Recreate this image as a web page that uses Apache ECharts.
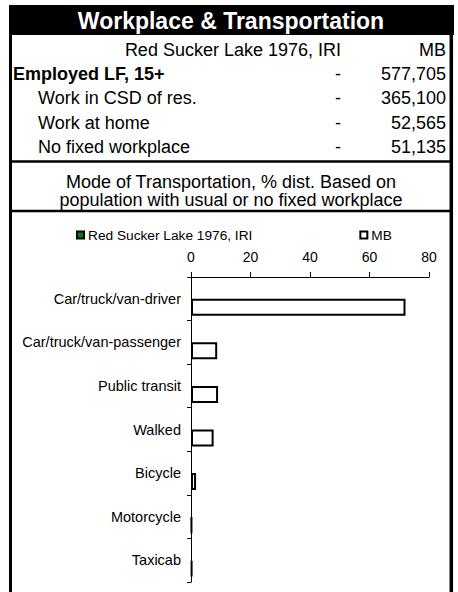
<!DOCTYPE html>
<html>
<head>
<meta charset="utf-8">
<script src="https://cdn.jsdelivr.net/npm/echarts@6/dist/echarts.min.js"></script>
<style>
html,body{margin:0;padding:0;background:#fff;}
#c{width:458px;height:592px;}
</style>
</head>
<body>
<div id="c"></div>
<script>
// ---- data ----
const titleText = 'Workplace & Transportation';
const placeName = 'Red Sucker Lake 1976, IRI';
const provName = 'MB';
const tableRows = ['Employed LF, 15+', 'Work in CSD of res.', 'Work at home', 'No fixed workplace'];
const tablePlace = ['-', '-', '-', '-'];
const tableProv = ['577,705', '365,100', '52,565', '51,135'];
const modeTitle = ['Mode of Transportation, % dist. Based on', 'population with usual or no fixed workplace'];
const categories = ['Car/truck/van-driver', 'Car/truck/van-passenger', 'Public transit', 'Walked', 'Bicycle', 'Motorcycle', 'Taxicab'];
const placeValues = [null, null, null, null, null, null, null];
const provValues = [72.1, 8.8, 9.1, 7.6, 1.7, 0.3, 0.4];
const axisMin = 0, axisMax = 80, axisStep = 20;

const FONT = '"Liberation Sans", Arial, Helvetica, sans-serif';
const chart = echarts.init(document.getElementById('c'), null, {renderer: 'svg'});

const g = [];
// title bar
g.push({type: 'rect', shape: {x: 9, y: 5, width: 445, height: 30}, style: {fill: '#000'}, silent: true});
g.push({type: 'text', x: 231, y: 21, style: {text: titleText, fill: '#fff', font: 'bold 23px ' + FONT, textAlign: 'center', textVerticalAlign: 'middle'}});
// frame
g.push({type: 'line', shape: {x1: 10.5, y1: 35, x2: 10.5, y2: 600}, style: {stroke: '#000', lineWidth: 3}});
g.push({type: 'line', shape: {x1: 451.3, y1: 35, x2: 451.3, y2: 600}, style: {stroke: '#000', lineWidth: 3.5}});
g.push({type: 'line', shape: {x1: 9, y1: 161.5, x2: 453, y2: 161.5}, style: {stroke: '#000', lineWidth: 2.5}});
g.push({type: 'line', shape: {x1: 9, y1: 211, x2: 453, y2: 211}, style: {stroke: '#000', lineWidth: 2.5}});
// table header
const rowY0 = 50, rowStep = 24.2;
g.push({type: 'text', x: 341, y: rowY0, style: {text: placeName, fill: '#000', font: '18px ' + FONT, textAlign: 'right', textVerticalAlign: 'middle'}});
g.push({type: 'text', x: 446, y: rowY0, style: {text: provName, fill: '#000', font: '18px ' + FONT, textAlign: 'right', textVerticalAlign: 'middle'}});
tableRows.forEach((r, i) => {
  const y = rowY0 + rowStep * (i + 1);
  const first = i === 0;
  g.push({type: 'text', x: first ? 13 : 38, y: y, style: {text: r, fill: '#000', font: (first ? 'bold ' : '') + '18px ' + FONT, textAlign: 'left', textVerticalAlign: 'middle'}});
  g.push({type: 'text', x: 341, y: y, style: {text: tablePlace[i], fill: '#000', font: '18px ' + FONT, textAlign: 'right', textVerticalAlign: 'middle'}});
  g.push({type: 'text', x: 446, y: y, style: {text: tableProv[i], fill: '#000', font: '18px ' + FONT, textAlign: 'right', textVerticalAlign: 'middle'}});
});
modeTitle.forEach((t, i) => {
  g.push({type: 'text', x: 231, y: 182 + i * 18.3, style: {text: t, fill: '#000', font: '18px ' + FONT, textAlign: 'center', textVerticalAlign: 'middle'}});
});

chart.setOption({
  animation: false,
  backgroundColor: '#fff',
  textStyle: {fontFamily: 'Liberation Sans'},
  graphic: g,
  legend: {
    left: 76, top: 228, padding: 0,
    itemWidth: 7, itemHeight: 7, itemGap: 107,
    icon: 'rect',
    textStyle: {fontSize: 13.7, color: '#000', padding: [0, 0, 0, -1]},
    data: [placeName, provName]
  },
  grid: {left: 191, top: 277, width: 238, height: 305, containLabel: false},
  xAxis: {
    type: 'value', position: 'top', min: axisMin, max: axisMax, interval: axisStep,
    axisLine: {show: true, lineStyle: {color: '#000', width: 1}},
    axisTick: {show: true, length: 5, lineStyle: {color: '#000'}},
    axisLabel: {fontSize: 14, color: '#000', margin: 13},
    splitLine: {show: false}
  },
  yAxis: {
    type: 'category', inverse: true, data: categories,
    axisLine: {show: true, lineStyle: {color: '#000', width: 1}},
    axisTick: {show: true, length: 4, lineStyle: {color: '#000'}},
    axisLabel: {fontSize: 14.5, color: '#000', margin: 10}
  },
  series: [
    {name: placeName, type: 'bar', data: placeValues, barGap: '0%', barCategoryGap: '22%',
     itemStyle: {color: '#008000', borderColor: '#000', borderWidth: 1.5}},
    {name: provName, type: 'bar', data: provValues, barGap: '0%', barCategoryGap: '22%',
     itemStyle: {color: '#fff', borderColor: '#000', borderWidth: 2}}
  ]
});
</script>
</body>
</html>
